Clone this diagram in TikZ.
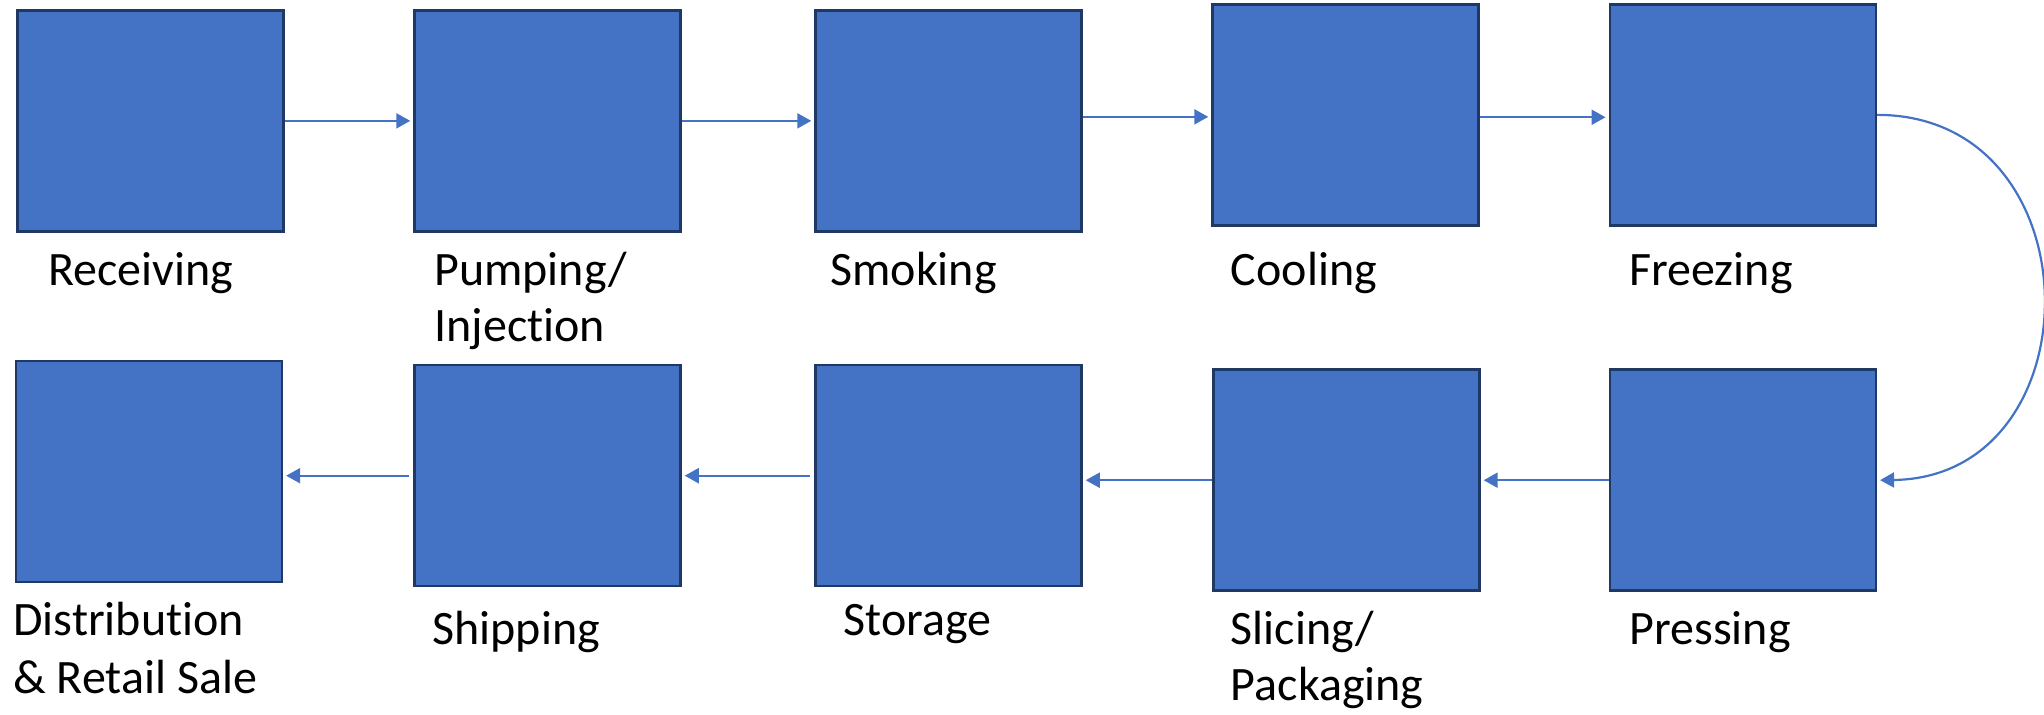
\documentclass[tikz,border=0pt]{standalone}
\usepackage{fontspec}
\setmainfont[Ligatures=NoCommon]{Carlito}
\usetikzlibrary{arrows.meta,calc}
\definecolor{boxfill}{HTML}{4472C4}
\definecolor{boxline}{HTML}{1F3864}
\definecolor{arrowblue}{HTML}{4472C4}
\begin{document}
\begin{tikzpicture}[x=0.5pt,y=-0.5pt,
  stepbox/.style={rectangle,fill=boxfill,draw=boxline,line width=1.25pt,
    minimum width=133pt,minimum height=110.5pt,inner sep=0pt},
  lbl/.style={anchor=base west,inner sep=0pt,font=\fontsize{24pt}{29pt}\selectfont},
  arr/.style={draw=arrowblue,line width=1.1pt,-{Triangle[length=7pt,width=7.5pt]},shorten >=1.5pt}]
\useasboundingbox (0,0) rectangle (2044,714);
% boxes
\node[stepbox] (rec) at (150.25,120.85) {};
\node[stepbox] (pum) at (547.5,120.85) {};
\node[stepbox] (smo) at (948.5,120.85) {};
\node[stepbox] (coo) at (1345.5,114.85) {};
\node[stepbox] (fre) at (1742.8,114.85) {};
\node[stepbox] (dis) at (148.9,471.5) {};
\node[stepbox] (shi) at (547.5,475.7) {};
\node[stepbox] (sto) at (948.5,475.7) {};
\node[stepbox] (sli) at (1346.4,480.2) {};
\node[stepbox] (pre) at (1742.8,480.2) {};
% labels
\node[lbl] (lrec) at (48,285) {Receiving};
\node[lbl] (lpum1) at (434,285) {Pumping/};
\node[lbl] (lpum2) at (434,341.7) {Injection};
\node[lbl] (lsmo) at (830,285) {Smoking};
\node[lbl] (lcoo) at (1230.5,285) {Cooling};
\node[lbl] (lfre) at (1629,285) {Freezing};
\node[lbl] (ldis1) at (13,635.7) {Distribution};
\node[lbl] (ldis2) at (13,693.3) {\& Retail Sale};
\node[lbl] (lshi) at (432,644) {Shipping};
\node[lbl] (lsto) at (843.4,635.7) {Storage};
\node[lbl] (lsli1) at (1230.5,644) {Slicing/};
\node[lbl] (lsli2) at (1230.5,700.7) {Packaging};
\node[lbl] (lpre) at (1629,644) {Pressing};
% top row arrows
\draw[arr] (rec.east) -- (rec.east -| pum.west);
\draw[arr] (pum.east) -- (pum.east -| smo.west);
\draw[arr] ([yshift=2pt]smo.east) -- ([yshift=2pt]smo.east -| coo.west);
\draw[arr] ([yshift=-1.2pt]coo.east) -- ([yshift=-1.2pt]coo.east -| fre.west);
% bottom row arrows
\draw[arr,shorten <=2pt] (shi.west) -- (shi.west -| dis.east);
\draw[arr,shorten <=2pt] (sto.west) -- (sto.west -| shi.east);
\draw[arr] (sli.west) -- (sli.west -| sto.east);
\draw[arr] (pre.west) -- (pre.west -| sli.east);
% curved connector
\draw[arr] (fre.east) .. controls ++(221,0) and ($(pre.east)+(221,-3)$) .. (pre.east);
\end{tikzpicture}
\end{document}
